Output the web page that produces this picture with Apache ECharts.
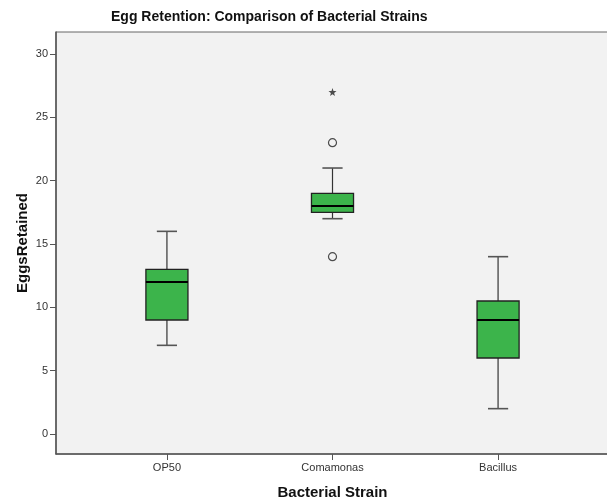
<!DOCTYPE html>
<html>
<head>
<meta charset="utf-8">
<script src="https://cdn.jsdelivr.net/npm/echarts@6/dist/echarts.min.js"></script>
<style>
  html, body { margin: 0; padding: 0; background: #fff; }
  #chart { width: 607px; height: 499px; }
</style>
</head>
<body>
<div id="chart"></div>
<script>
// 细菌菌株
const strains = ['OP50', 'Comamonas', 'Bacillus']
// [min, Q1, median, Q3, max]
const boxValues = [
  [7, 9, 12, 13, 16],
  [17, 17.5, 18, 19, 21],
  [2, 6, 9, 10.5, 14]
]
// 离群值
const outlierStrains = ['Comamonas', 'Comamonas']
const outlierValues = [23, 14]
// 极端值（星号）
const extremeStrains = ['Comamonas']
const extremeValues = [27]
const yTicks = [0, 5, 10, 15, 20, 25, 30]

const pos = (name) => strains.indexOf(name) + 1

const myEchart = echarts.init(document.getElementById('chart'))
const font = 'Liberation Sans, Arial, sans-serif'

const option = {
  animation: false,
  title: {
    text: 'Egg Retention: Comparison of Bacterial Strains',
    left: 111,
    top: 10,
    padding: 0,
    textStyle: { fontFamily: font, fontSize: 14, fontWeight: 'bold', color: '#111' }
  },
  grid: {
    left: 56,
    top: 32,
    right: -2,
    bottom: 45,
    outerBoundsMode: 'none',
    containLabel: false,
    show: true,
    backgroundColor: '#f2f2f2',
    borderColor: '#666',
    borderWidth: 1
  },
  xAxis: {
    type: 'value',
    min: 0.33,
    max: 3.67,
    splitLine: { show: false },
    axisLine: { show: true, onZero: false, lineStyle: { color: '#555', width: 1.5 } },
    axisTick: { show: true, customValues: [1, 2, 3], length: 6, lineStyle: { color: '#555' } },
    axisLabel: {
      customValues: [1, 2, 3],
      formatter: (v) => strains[Math.round(v) - 1],
      fontFamily: font,
      fontSize: 11,
      color: '#333',
      margin: 8
    },
    name: 'Bacterial Strain',
    nameLocation: 'middle',
    nameGap: 31,
    nameTextStyle: { fontFamily: font, fontSize: 15, fontWeight: 'bold', color: '#111' }
  },
  yAxis: {
    type: 'value',
    min: -1.58,
    max: 31.74,
    splitLine: { show: false },
    axisLine: { show: true, onZero: false, lineStyle: { color: '#555', width: 1.5 } },
    axisTick: { show: true, customValues: yTicks, length: 6, lineStyle: { color: '#555' } },
    axisLabel: {
      customValues: yTicks,
      fontFamily: font,
      fontSize: 11,
      color: '#333',
      margin: 8
    },
    name: 'EggsRetained',
    nameLocation: 'middle',
    nameRotate: 90,
    nameGap: 26,
    nameMoveOverlap: false,
    nameTextStyle: { fontFamily: font, fontSize: 15, fontWeight: 'bold', color: '#111' }
  },
  series: [
    {
      type: 'custom',
      data: boxValues.map((d, i) => [i + 1].concat(d)),
      renderItem: function (params, api) {
        const x = api.value(0)
        const pMin = api.coord([x, api.value(1)])
        const pQ1 = api.coord([x, api.value(2)])
        const pMed = api.coord([x, api.value(3)])
        const pQ3 = api.coord([x, api.value(4)])
        const pMax = api.coord([x, api.value(5)])
        const boxW = api.size([0.254, 0])[0]
        const capW = api.size([0.122, 0])[0]
        const cx = pMed[0]
        return {
          type: 'group',
          children: [
            { type: 'line', shape: { x1: cx, y1: pQ3[1], x2: cx, y2: pMax[1] }, style: { stroke: '#333', lineWidth: 1.2 } },
            { type: 'line', shape: { x1: cx, y1: pQ1[1], x2: cx, y2: pMin[1] }, style: { stroke: '#333', lineWidth: 1.2 } },
            { type: 'line', shape: { x1: cx - capW / 2, y1: pMax[1], x2: cx + capW / 2, y2: pMax[1] }, style: { stroke: '#555', lineWidth: 1.6 } },
            { type: 'line', shape: { x1: cx - capW / 2, y1: pMin[1], x2: cx + capW / 2, y2: pMin[1] }, style: { stroke: '#555', lineWidth: 1.6 } },
            {
              type: 'rect',
              shape: { x: cx - boxW / 2, y: pQ3[1], width: boxW, height: pQ1[1] - pQ3[1] },
              style: { fill: '#3cb44b', stroke: '#222', lineWidth: 1.3 }
            },
            { type: 'line', shape: { x1: cx - boxW / 2, y1: pMed[1], x2: cx + boxW / 2, y2: pMed[1] }, style: { stroke: '#000', lineWidth: 2.2 } }
          ]
        }
      }
    },
    {
      type: 'scatter',
      data: outlierValues.map((v, i) => [pos(outlierStrains[i]), v]),
      symbol: 'circle',
      symbolSize: 8,
      itemStyle: { color: 'rgba(0,0,0,0)', borderColor: '#222', borderWidth: 1.2 }
    },
    {
      type: 'scatter',
      data: extremeValues.map((v, i) => [pos(extremeStrains[i]), v]),
      symbol: 'path://M0,-10L2.35,-3.24L9.51,-3.09L3.8,1.24L5.88,8.09L0,4L-5.88,8.09L-3.8,1.24L-9.51,-3.09L-2.35,-3.24Z',
      symbolSize: 8,
      itemStyle: { color: '#222' }
    }
  ]
}
myEchart.setOption(option)
</script>
</body>
</html>
